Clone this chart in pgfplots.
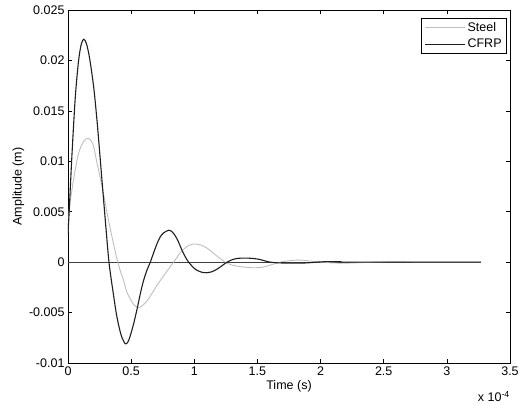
\documentclass[border=0pt]{standalone}
\usepackage{fontspec}
\setmainfont{Liberation Sans}
\usepackage{pgfplots}
\pgfplotsset{compat=1.18}
\newcommand\ff{\fontsize{12.5}{15}\selectfont}
\begin{document}
\begin{tikzpicture}
\begin{axis}[
  scale only axis, width=442pt, height=353pt,
  xmin=0, xmax=3.5, ymin=-0.01, ymax=0.025,
  xtick={0,0.5,...,3.5}, ytick={-0.01,-0.005,0,0.005,0.01,0.015,0.02,0.025},
  xticklabels={0,0.5,1,1.5,2,2.5,3,3.5},
  yticklabels={-0.01,-0.005,0,0.005,0.01,0.015,0.02,0.025},
  tick align=inside, xtick pos=both, ytick pos=both,
  major tick length=4pt,
  tick style={black, line width=0.6pt},
  axis line style={black, line width=0.7pt},
  tick label style={font=\ff},
  /pgf/number format/assume math mode=true,
  xlabel={Time (s)}, ylabel={Amplitude (m)},
  label style={font=\ff},
  ylabel style={yshift=-2pt},
  xlabel style={yshift=2pt},
  legend style={font=\ff, draw=black, line width=0.6pt, at={(rel axis cs:0.993,0.977)}, anchor=north east,
    inner xsep=3pt, inner ysep=2pt, row sep=2pt, cells={anchor=west}},
  legend image code/.code={\draw[#1] (0pt,0pt) -- (40pt,0pt);},
  clip mode=individual,
]
\addplot[forget plot, color=black!75, line width=0.8pt] coordinates {(0,0) (3.27,0)};
\addplot[color=black!25, line width=0.9pt, smooth, tension=0.5] coordinates {
(0,0.003) (0.01,0.0052) (0.044,0.0082) (0.084,0.0108) (0.125,0.0120) (0.163,0.01227)
(0.2,0.0116) (0.23,0.0098) (0.27,0.0075) (0.309,0.0049) (0.345,0.0027) (0.375,0.001)
(0.41,-0.0007) (0.44,-0.0018) (0.467,-0.003) (0.52,-0.0042) (0.559,-0.0045) (0.59,-0.0043)
(0.625,-0.00385) (0.665,-0.0031) (0.704,-0.0023) (0.744,-0.0016) (0.784,-0.0009) (0.836,0)
(0.87,0.0006) (0.90,0.0011) (0.95,0.0016) (0.995,0.0018) (1.05,0.0017) (1.10,0.0014)
(1.14,0.001) (1.18,0.0006) (1.245,0) (1.29,-0.00025) (1.34,-0.0004) (1.40,-0.0005)
(1.47,-0.00056) (1.54,-0.0005) (1.60,-0.0003) (1.68,0) (1.76,0.00015) (1.84,0.0002)
(1.92,0.0001) (2.0,0) (2.1,-0.00008) (2.2,-0.0001) (2.32,-0.00005) (2.45,0) (2.6,0.00003)
(2.8,0) (3.27,0)};
\addlegendentry{Steel}
\addplot[color=black!88, line width=1.1pt, smooth, tension=0.5] coordinates {
(0,0.0028) (0.01,0.0052) (0.032,0.0108) (0.058,0.0164) (0.084,0.020) (0.105,0.0216)
(0.124,0.0221) (0.145,0.0217) (0.17,0.0203) (0.203,0.0174) (0.23,0.0140) (0.256,0.0101)
(0.275,0.0072) (0.295,0.0042) (0.322,0.0003) (0.34,-0.0015) (0.361,-0.0033) (0.38,-0.0049)
(0.40,-0.0062) (0.425,-0.0074) (0.454,-0.0081) (0.475,-0.0079) (0.493,-0.0073) (0.52,-0.0061)
(0.546,-0.0047) (0.575,-0.003) (0.599,-0.0018) (0.625,-0.0008) (0.652,0) (0.68,0.0010)
(0.704,0.0018) (0.73,0.0025) (0.757,0.0029) (0.797,0.00316) (0.825,0.0030) (0.85,0.0026)
(0.875,0.0020) (0.90,0.00125) (0.93,0.0005) (0.955,0) (0.99,-0.0005) (1.02,-0.0008)
(1.06,-0.001) (1.10,-0.00105) (1.14,-0.00095) (1.18,-0.0007) (1.22,-0.00035) (1.26,0)
(1.30,0.00024) (1.338,0.00036) (1.38,0.0004) (1.417,0.0004) (1.47,0.00036) (1.52,0.00026)
(1.56,0.00012) (1.60,0) (1.65,-0.00006) (1.71,-0.00009) (1.78,-0.0001) (1.84,-0.0001)
(1.91,-0.00006) (1.97,0) (2.03,0.00004) (2.10,0.00005) (2.17,0.00003) (2.235,0) (3.27,0)};
\addlegendentry{CFRP}
\end{axis}
\node[font=\ff, anchor=base east, inner sep=0pt] at ([shift={(0pt,-39pt)}]current axis.south east) {x 10\textsuperscript{-4}};
\pgfresetboundingbox
\path ([shift={(-68pt,-42pt)}]current axis.south west) rectangle ([shift={(15pt,10pt)}]current axis.north east);
\end{tikzpicture}
\end{document}
